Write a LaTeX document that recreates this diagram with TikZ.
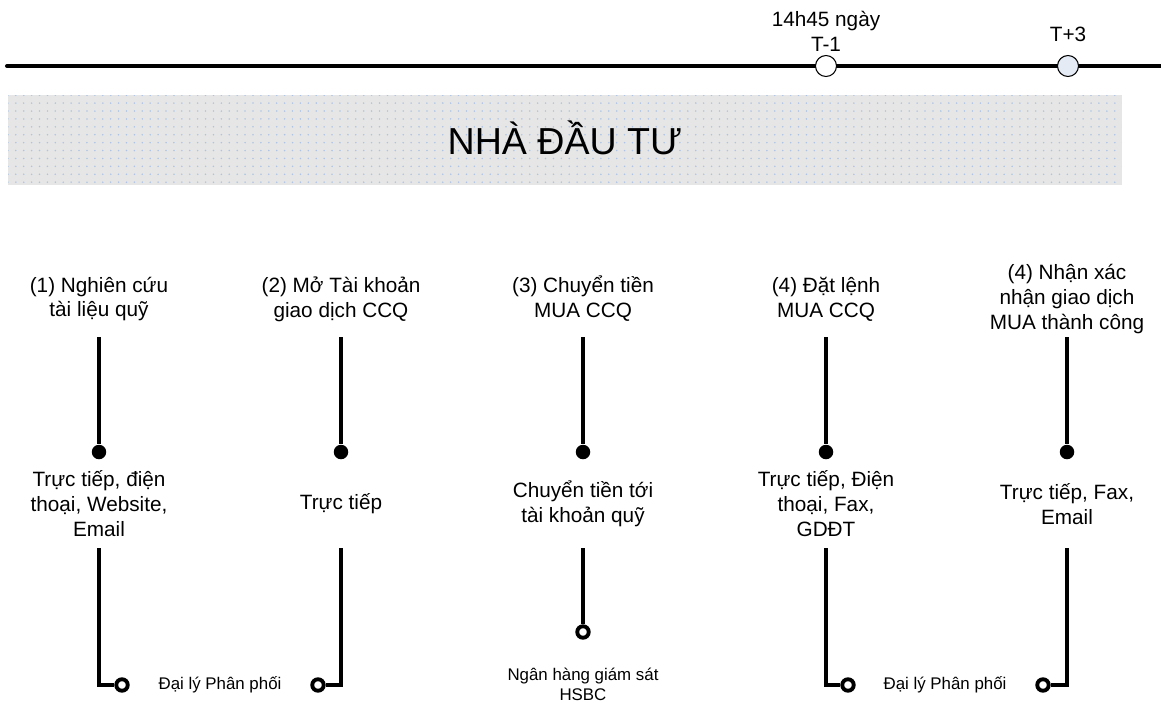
\documentclass[tikz,border=0pt]{standalone}
\usepackage{fontspec}
\setmainfont{Liberation Sans}
\usetikzlibrary{patterns.meta}

\definecolor{tickblue}{HTML}{E4EBF5}
\definecolor{bannergray}{HTML}{E6E6E6}
\definecolor{dotblue}{HTML}{AFC4E4}

\begin{document}
\begin{tikzpicture}[x=0.02cm,y=-0.02cm,node distance=1.04cm]

\tikzstyle{lbl} = [align=center, inner sep=0pt, font=\fontsize{11.8}{14.2}\selectfont]
\tikzstyle{sm} = [align=center, inner sep=0pt, font=\fontsize{9.6}{11.3}\selectfont]
\tikzstyle{blob} = [circle, fill=black, inner sep=0pt, minimum size=0.29cm]
\tikzstyle{ring} = [circle, draw=black, fill=white, line width=2.2pt, inner sep=0pt, minimum size=0.23cm]
\tikzstyle{tick} = [circle, draw=black, line width=0.6pt, inner sep=0pt, minimum size=0.42cm]
\tikzstyle{wire} = [line width=2.3pt]

\useasboundingbox (0,0) rectangle (1161,704);

% time line
\coordinate (tl0) at (7,66);
\coordinate (tl1) at (1161,66);
\draw[wire, line cap=round] (tl0) -- (tl1);
\node (tm1) [tick, fill=white] at (826,66) {};
\node (tm2) [tick, fill=tickblue] at (1068,66) {};
\node (tt1) [lbl] at (826,31) {14h45 ngày\\T-1};
\node (tt2) [lbl, anchor=base] at (1068,41) {T+3};

% banner
\node (nha) [minimum width=22.28cm, minimum height=1.8cm, text height=0.56cm, text depth=0pt, inner sep=0pt,
  preaction={fill=bannergray}, pattern={Dots[distance=4.5pt, radius=0.5pt]}, pattern color=dotblue,
  font=\fontsize{21.4}{25}\selectfont] at (565,140) {NHÀ ĐẦU TƯ};

% step 1
\node (t1) [lbl] at (99,299) {(1) Nghiên cứu\\tài liệu quỹ};
\coordinate (a1) at (99,337);
\node (d1) [blob] at (99,452) {};
\node (m1) [lbl, below of=d1] {Trực tiếp, điện\\thoại, Website,\\Email};
\coordinate (b1) at (99,548);
\node (p1) [ring] at (122,685) {};
\draw[wire] (a1) -- (d1);
\draw[wire] (b1) |- (p1);

% step 2
\node (t2) [lbl] at (341,299) {(2) Mở Tài khoản\\giao dịch CCQ};
\coordinate (a2) at (341,337);
\node (d2) [blob] at (341,452) {};
\node (m2) [lbl, below of=d2] {Trực tiếp};
\coordinate (b2) at (341,548);
\node (p2) [ring] at (318,685) {};
\draw[wire] (a2) -- (d2);
\draw[wire] (b2) |- (p2);

\node (dl1) [sm] at (220,685) {Đại lý Phân phối};

% step 3
\node (t3) [lbl] at (583,299) {(3) Chuyển tiền\\MUA CCQ};
\coordinate (a3) at (583,337);
\node (d3) [blob] at (583,452) {};
\node (m3) [lbl, below of=d3] {Chuyển tiền tới\\tài khoản quỹ};
\coordinate (b3) at (583,548);
\node (p3) [ring] at (583,632) {};
\draw[wire] (a3) -- (d3);
\draw[wire] (b3) -- (p3);
\node (h3) [sm] at (583,684) {Ngân hàng giám sát\\HSBC};

% step 4
\node (t4) [lbl] at (826,299) {(4) Đặt lệnh\\MUA CCQ};
\coordinate (a4) at (826,337);
\node (d4) [blob] at (826,452) {};
\node (m4) [lbl, below of=d4] {Trực tiếp, Điện\\thoại, Fax,\\GDĐT};
\coordinate (b4) at (826,548);
\node (p4) [ring] at (848,685) {};
\draw[wire] (a4) -- (d4);
\draw[wire] (b4) |- (p4);

% step 5
\node (t5) [lbl] at (1067,299) {(4) Nhận xác\\nhận giao dịch\\MUA thành công};
\coordinate (a5) at (1067,337);
\node (d5) [blob] at (1067,452) {};
\node (m5) [lbl, below of=d5] {Trực tiếp, Fax,\\Email};
\coordinate (b5) at (1067,548);
\node (p5) [ring] at (1043,685) {};
\draw[wire] (a5) -- (d5);
\draw[wire] (b5) |- (p5);

\node (dl2) [sm] at (945,685) {Đại lý Phân phối};
\end{tikzpicture}
\end{document}
